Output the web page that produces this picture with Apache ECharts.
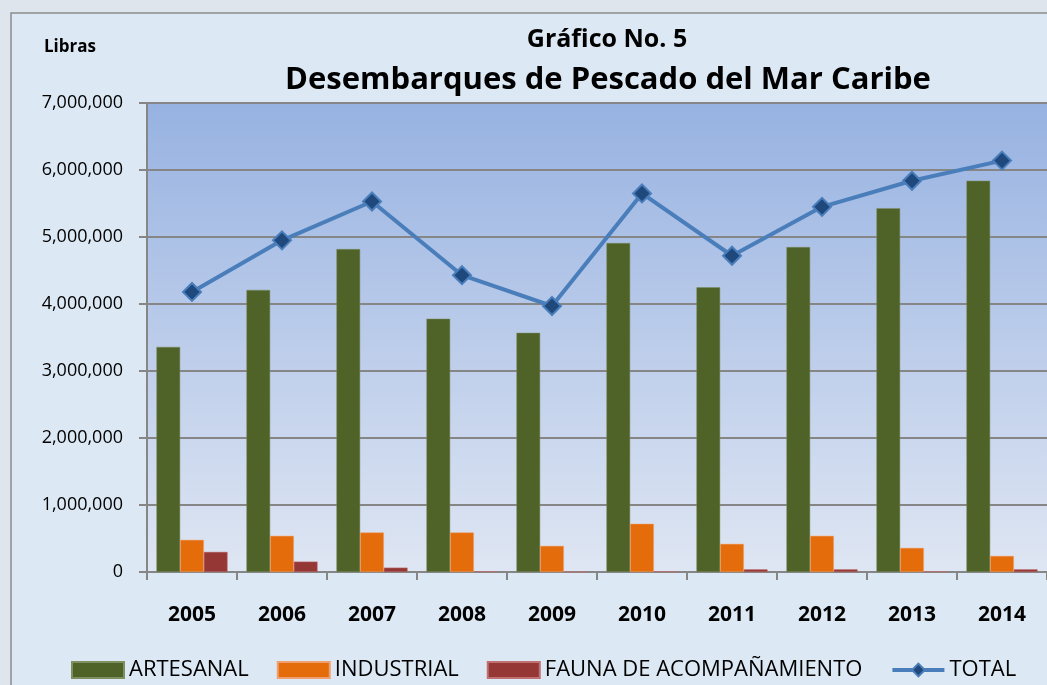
<!DOCTYPE html>
<html>
<head>
<meta charset="utf-8">
<script src="https://cdn.jsdelivr.net/npm/echarts@6/dist/echarts.min.js"></script>
<style>
  html, body { margin: 0; padding: 0; background: #dfe5ec; }
  #chart { width: 1047px; height: 685px; }
</style>
</head>
<body>
<div id="chart"></div>
<script>
// datos
const years = ['2005', '2006', '2007', '2008', '2009', '2010', '2011', '2012', '2013', '2014'];
const artesanal = [3360000, 4210000, 4820000, 3780000, 3570000, 4910000, 4250000, 4850000, 5430000, 5840000];
const industrial = [480000, 540000, 590000, 590000, 390000, 720000, 420000, 540000, 360000, 240000];
const fauna = [300000, 155000, 65000, 10000, 0, 10000, 40000, 40000, 10000, 40000];
const total = [4180000, 4950000, 5530000, 4430000, 3970000, 5650000, 4720000, 5450000, 5840000, 6140000];

const font = "'Open Sans', 'Noto Sans', sans-serif";
const chart = echarts.init(document.getElementById('chart'));

chart.setOption({
  backgroundColor: '#dfe5ec',
  animation: false,
  textStyle: { fontFamily: font },
  graphic: [
    {
      type: 'rect',
      shape: { x: 11, y: 13, width: 1060, height: 700 },
      style: { fill: '#dce8f4', stroke: '#8c8c8c', lineWidth: 1.5 },
      z: -10
    },
    {
      type: 'text',
      left: 44, top: 39,
      style: { text: 'Libras', font: 'bold 17px ' + font, fill: '#000' }
    }
  ],
  title: [
    {
      text: 'Gráfico No. 5',
      left: 602, top: 22, textAlign: 'center',
      textStyle: { fontSize: 25, fontWeight: 'bold', color: '#000', fontFamily: font }
    },
    {
      text: 'Desembarques de Pescado del Mar Caribe',
      left: 603, top: 60, textAlign: 'center',
      textStyle: { fontSize: 31, fontWeight: 'bold', color: '#000', fontFamily: font }
    }
  ],
  legend: {
    bottom: -1,
    left: 66,
    itemWidth: 52,
    itemHeight: 16,
    itemGap: 28,
    textStyle: { fontSize: 22, color: '#000', fontFamily: font },
    data: [
      { name: 'ARTESANAL', icon: 'rect' },
      { name: 'INDUSTRIAL', icon: 'rect' },
      { name: 'FAUNA DE ACOMPAÑAMIENTO', icon: 'rect' },
      { name: 'TOTAL', lineStyle: { width: 4 } }
    ]
  },
  grid: {
    left: 147,
    right: -12,
    top: 103,
    bottom: 113,
    show: true,
    borderWidth: 0,
    backgroundColor: {
      type: 'linear', x: 0, y: 0, x2: 0, y2: 1,
      colorStops: [
        { offset: 0, color: '#97b2e1' },
        { offset: 1, color: '#dfe6f3' }
      ]
    }
  },
  xAxis: {
    type: 'category',
    data: years,
    axisLine: { lineStyle: { color: '#868686', width: 2 } },
    axisTick: { show: true, length: 8, lineStyle: { color: '#868686', width: 2 } },
    axisLabel: { fontSize: 21, fontWeight: 'bold', color: '#000', margin: 33, fontFamily: font }
  },
  yAxis: {
    type: 'value',
    min: 0,
    max: 7000000,
    interval: 1000000,
    axisLine: { show: true, lineStyle: { color: '#868686', width: 2 } },
    axisTick: { show: true, length: 8, lineStyle: { color: '#868686', width: 2 } },
    splitLine: { lineStyle: { color: '#868686', width: 2 } },
    axisLabel: {
      fontSize: 18, color: '#000', margin: 24, fontFamily: font,
      formatter: v => v.toLocaleString('en-US')
    }
  },
  series: [
    {
      name: 'ARTESANAL', type: 'bar', data: artesanal,
      barGap: '0%', barCategoryGap: '21%',
      itemStyle: { color: '#4f6228', borderColor: '#7f8f60', borderWidth: 0.5 }
    },
    {
      name: 'INDUSTRIAL', type: 'bar', data: industrial,
      barGap: '0%', barCategoryGap: '21%',
      itemStyle: { color: '#e46c0a', borderColor: '#f0a070', borderWidth: 0.5 }
    },
    {
      name: 'FAUNA DE ACOMPAÑAMIENTO', type: 'bar', data: fauna,
      barGap: '0%', barCategoryGap: '21%',
      itemStyle: { color: '#953735', borderColor: '#c07070', borderWidth: 0.5 }
    },
    {
      name: 'TOTAL', type: 'line', data: total,
      symbol: 'diamond', symbolSize: 18,
      lineStyle: { color: '#4a7ebb', width: 4 },
      itemStyle: { color: '#1f497d', borderColor: '#4a7ebb', borderWidth: 2 },
      z: 5
    }
  ]
});
</script>
</body>
</html>
